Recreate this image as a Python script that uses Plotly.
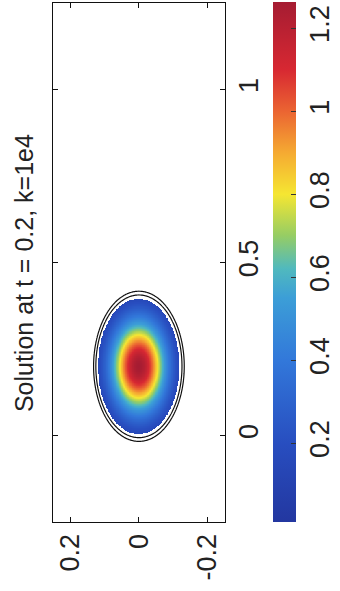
import numpy as np
import plotly.graph_objects as go

# ---- data ----
title_text = "Solution at t = 0.2, k=1e4"
x_ticks = [0, 0.5, 1]            # original x axis (drawn vertically)
x_tick_labels = ["0", "0.5", "1"]
y_ticks = [0.2, 0, -0.2]         # original y axis (drawn horizontally)
y_tick_labels = ["0.2", "0", "-0.2"]
cbar_ticks = [0.2, 0.4, 0.6, 0.8, 1.0, 1.2]
cbar_tick_labels = ["0.2", "0.4", "0.6", "0.8", "1", "1.2"]
value_min = 0.01
value_max = 1.263

blob_center_x = 0.2     # original x
blob_center_y = 0.0     # original y
blob_radius_x = 0.217   # semi-axis along original x
blob_radius_y = 0.132   # semi-axis along original y
blob_peak = 1.263
blob_width = 0.62       # gaussian width relative to outer contour
blob_fill_edge = 0.9    # coloured area ends here (relative radius)
edge_contours = [0.95, 1.0]

# ---- field on a grid ----
gy = np.arange(-0.17, 0.1701, 0.002)   # original y
gx = np.arange(-0.05, 0.4501, 0.002)   # original x
GY, GX = np.meshgrid(gy, gx)
R = np.sqrt(((GX - blob_center_x) / blob_radius_x) ** 2 + ((GY - blob_center_y) / blob_radius_y) ** 2)
Z = blob_peak * np.exp(-(R ** 2) / blob_width ** 2)
Zm = np.where(R <= blob_fill_edge, Z, np.nan)

colorscale = [
    [0.0, "rgb(35,55,160)"],
    [0.152, "rgb(40,78,192)"],
    [0.311, "rgb(50,120,218)"],
    [0.431, "rgb(60,158,215)"],
    [0.487, "rgb(80,185,190)"],
    [0.551, "rgb(150,205,100)"],
    [0.63, "rgb(245,230,50)"],
    [0.71, "rgb(245,170,50)"],
    [0.79, "rgb(235,100,50)"],
    [0.87, "rgb(215,40,50)"],
    [1.0, "rgb(165,28,50)"],
]

W, H = 340, 591
font = "Liberation Sans, Arial, sans-serif"

fig = go.Figure()
fig.add_trace(go.Heatmap(
    x=gy, y=gx, z=Zm,
    zmin=value_min, zmax=value_max,
    colorscale=colorscale,
    hoverongaps=False,
    colorbar=dict(
        x=283 / W, xanchor="left",
        y=69 / H, yanchor="bottom",
        len=520 / H, lenmode="fraction",
        thickness=23, thicknessmode="pixels",
        tickvals=cbar_ticks, ticktext=cbar_tick_labels,
        tickangle=-90,
        tickfont=dict(size=27, color="#222", family=font),
        ticks="inside", ticklen=5, tickcolor="#333",
        outlinewidth=0,
        xpad=0, ypad=0,
    ),
))
fig.add_trace(go.Contour(
    x=gy, y=gx, z=R,
    contours=dict(coloring="lines", start=edge_contours[0], end=edge_contours[-1],
                  size=edge_contours[1] - edge_contours[0]),
    colorscale=[[0, "#111"], [1, "#111"]],
    line=dict(width=1.2),
    showscale=False,
    hoverinfo="skip",
))

axis_common = dict(
    showgrid=False, zeroline=False,
    showline=True, linecolor="#111", linewidth=1.2, mirror="ticks",
    ticks="inside", ticklen=5, tickcolor="#111",
    tickangle=-90,
    tickfont=dict(size=27, color="#222", family=font),
)

fig.update_layout(
    width=W, height=H,
    margin=dict(l=0, r=0, t=0, b=0),
    paper_bgcolor="white", plot_bgcolor="white",
    showlegend=False,
    xaxis=dict(domain=[55 / W, 233 / W], range=[0.25, -0.25],
               tickvals=y_ticks, ticktext=y_tick_labels, **axis_common),
    yaxis=dict(domain=[69 / H, 588 / H], range=[-0.25, 1.25], side="right",
               tickvals=x_ticks, ticktext=x_tick_labels, **axis_common),
    annotations=[dict(
        text=title_text, x=25 / W, y=318 / H, xref="paper", yref="paper",
        showarrow=False, textangle=-90,
        font=dict(size=25, color="#222", family=font),
        xanchor="center", yanchor="middle",
    )],
)

fig.write_html("out.html")
